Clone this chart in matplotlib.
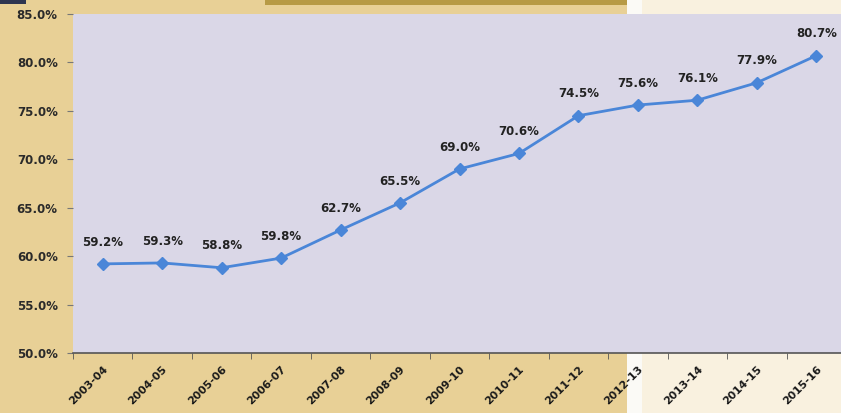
import matplotlib
matplotlib.use('Agg')
import numpy as np
import matplotlib.pyplot as plt
from matplotlib.patches import Rectangle

# Data
years = ["2003-04", "2004-05", "2005-06", "2006-07", "2007-08", "2008-09",
         "2009-10", "2010-11", "2011-12", "2012-13", "2013-14", "2014-15", "2015-16"]
values = [59.2, 59.3, 58.8, 59.8, 62.7, 65.5, 69.0, 70.6, 74.5, 75.6, 76.1, 77.9, 80.7]
y_ticks = [50, 55, 60, 65, 70, 75, 80, 85]

W, H = 841, 413
fig = plt.figure(figsize=(W / 100, H / 100), dpi=100)

def px_rect(x0, y0, x1, y1, color):
    # rectangle in pixel coords (origin top-left)
    fig.patches.append(Rectangle((x0 / W, 1 - y1 / H), (x1 - x0) / W, (y1 - y0) / H,
                                 transform=fig.transFigure, color=color, zorder=-5, lw=0))

# background pieces of the scanned page
px_rect(0, 0, 627, H, '#E8D096')
px_rect(627, 0, 642, H, '#FBFAF6')
px_rect(642, 0, W, H, '#F9F1DF')
px_rect(265, 0, 627, 5, '#B79A45')
px_rect(0, 0, 26, 4, '#2E3550')

ax = fig.add_axes([73 / W, 1 - 353 / H, (846 - 73) / W, (353 - 14) / H])
ax.set_facecolor('#DAD7E7')

x = np.arange(len(years))
ax.plot(x, values, color='#4A86D8', lw=2, marker='D', ms=6, mec='#4A86D8', mfc='#4A86D8', zorder=3)

for xi, v in zip(x, values):
    ax.annotate(f"{v:.1f}%", (xi, v), xytext=(0, 11), textcoords='offset points',
                ha='center', va='bottom', fontsize=8.5, fontweight='bold', color='#222222')

ax.set_xlim(-0.5, len(years) - 0.5)
ax.set_ylim(50, 85)
ax.set_yticks(y_ticks)
ax.set_yticklabels([f"{t:.1f}%" for t in y_ticks], fontsize=8.5, fontweight='bold', color='#2A2A2A')

ax.set_xticks(x)
ax.set_xticklabels(years, rotation=45, ha='right', rotation_mode='anchor',
                   fontsize=7.8, fontweight='bold', color='#1A1A1A')
ax.set_xticks(np.arange(-0.5, len(years)), minor=True)
ax.tick_params(axis='x', which='major', length=0, pad=8)
ax.tick_params(axis='x', which='minor', length=4, color='#555555')
ax.tick_params(axis='y', length=4, color='#777777', pad=7)

for s in ['top', 'right', 'left']:
    ax.spines[s].set_visible(False)
ax.spines['bottom'].set_color('#555555')
ax.spines['bottom'].set_linewidth(1.2)

fig.savefig('out.png', dpi=100)
